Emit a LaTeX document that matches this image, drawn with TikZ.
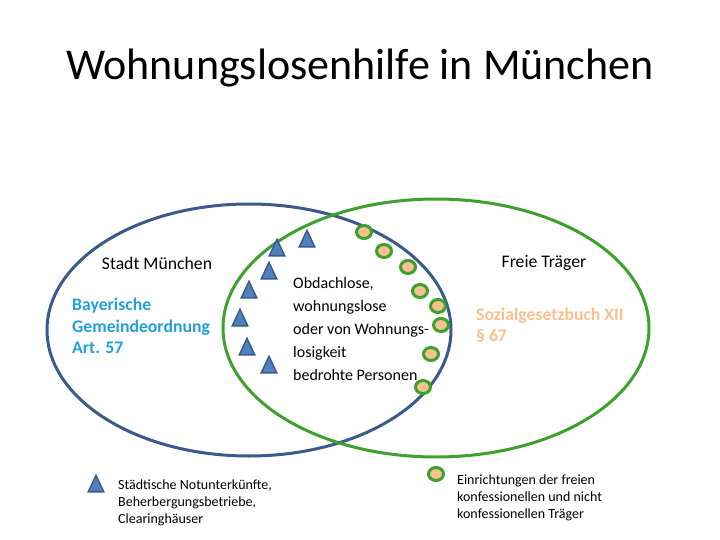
\documentclass[tikz,border=0pt]{standalone}
\usepackage{fontspec}
\setmainfont{Carlito}
\usetikzlibrary{shapes.geometric}
\definecolor{cityblue}{RGB}{58,90,138}
\definecolor{freegreen}{RGB}{62,160,45}
\definecolor{trifill}{RGB}{79,129,189}
\definecolor{peach}{RGB}{250,192,143}
\definecolor{lawblue}{RGB}{35,160,215}
\tikzset{
  tri/.style={isosceles triangle, isosceles triangle stretches, shape border rotate=90,
    minimum height=16.5pt, minimum width=15.5pt, inner sep=0pt,
    fill=trifill, draw=cityblue, line width=1.5pt},
  dot/.style={ellipse, minimum width=15pt, minimum height=13pt, inner sep=0pt,
    fill=peach, draw=freegreen, line width=3pt},
  ring/.style={line width=3pt},
  lbl/.style={inner sep=0pt, font=\fontsize{17.7}{21.5}\selectfont},
  law/.style={inner sep=0pt, align=left, font=\bfseries\fontsize{17.7}{21.3}\selectfont},
  mid/.style={inner sep=0pt, align=left, font=\fontsize{16}{23}\selectfont},
  legend/.style={inner sep=0pt, align=left, font=\fontsize{14}{17.3}\selectfont}
}
\begin{document}
\begin{tikzpicture}[x=1pt,y=-1pt]
\useasboundingbox (0,0) rectangle (720,540);
\fill[white] (0,0) rectangle (720,540);

\node[inner sep=0pt, font=\fontsize{44}{50}\selectfont] (title) at (360,68) {Wohnungslosenhilfe in München};

\draw[ring, cityblue] (249,330) ellipse [x radius=202, y radius=126];
\draw[ring, freegreen] (436,328) ellipse [x radius=213, y radius=129];

\node[lbl] (stadt) at (157,263) {Stadt München};
\node[lbl] (freie) at (544,263) {Freie Träger};

\node[law, text=lawblue, anchor=west] (bgo) at (72,326) {Bayerische\\Gemeindeordnung\\Art. 57};
\node[law, text=peach, anchor=west] (sgb) at (476,325) {Sozialgesetzbuch XII\\§ 67};

\node[mid, anchor=west] (people) at (293,329) {Obdachlose,\\wohnungslose\\oder von Wohnungs-\\losigkeit\\bedrohte Personen};

\node[tri] (t1) at (307,242) {};
\node[tri] (t2) at (277,251) {};
\node[tri] (t3) at (269,274) {};
\node[tri] (t4) at (249,293) {};
\node[tri] (t5) at (240,321) {};
\node[tri] (t6) at (247,350) {};
\node[tri] (t7) at (269,368) {};

\node[dot] (c1) at (364,232) {};
\node[dot] (c2) at (384,251) {};
\node[dot] (c3) at (408,267) {};
\node[dot] (c4) at (420,291) {};
\node[dot] (c5) at (438,306) {};
\node[dot] (c6) at (441,325) {};
\node[dot] (c7) at (431,354) {};
\node[dot] (c8) at (423,387) {};

\node[tri] (tl) at (96,487) {};
\node[legend, anchor=west] (tltext) at (118,503) {Städtische Notunterkünfte,\\Beherbergungsbetriebe,\\Clearinghäuser};
\node[dot] (cl) at (436,474) {};
\node[legend, anchor=west] (cltext) at (457,498) {Einrichtungen der freien\\konfessionellen und nicht\\konfessionellen Träger};
\end{tikzpicture}
\end{document}
